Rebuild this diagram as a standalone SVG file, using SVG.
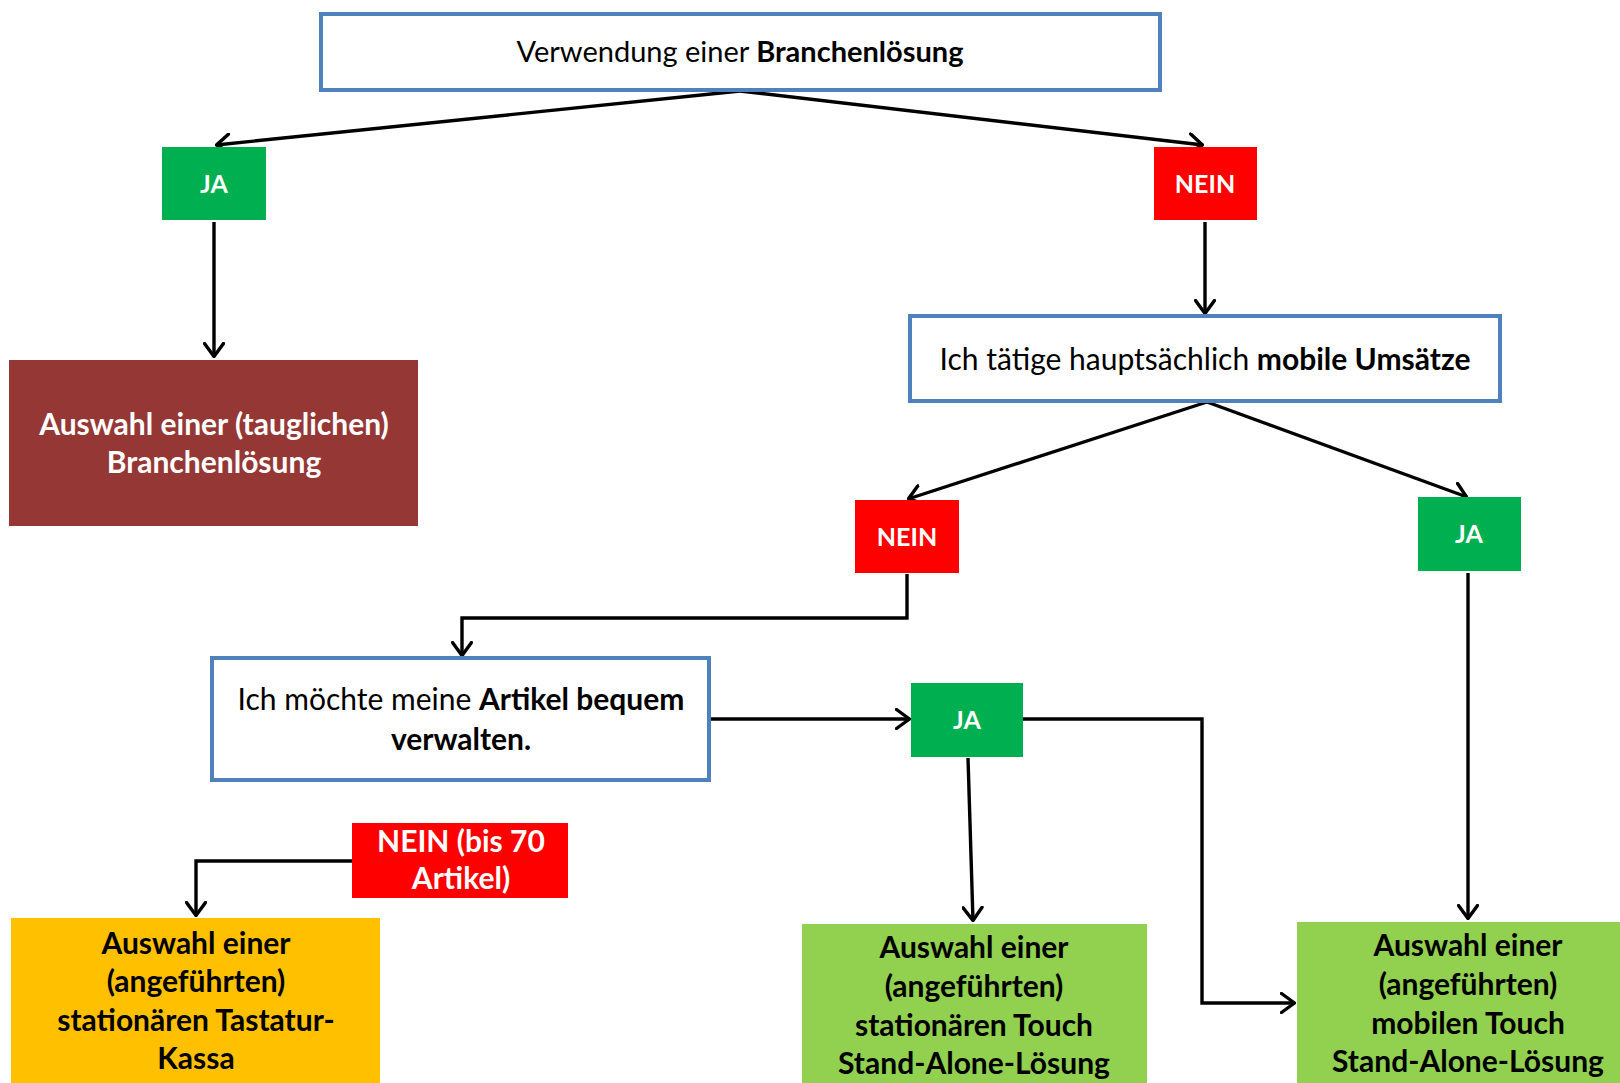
<svg xmlns="http://www.w3.org/2000/svg" width="1620" height="1083" viewBox="0 0 1620 1083">
<style>
.q{fill:#ffffff;stroke:#4f81bd;stroke-width:4}
.t{font-family:Lato,"Open Sans","Liberation Sans",sans-serif;font-size:30px;text-anchor:middle;fill:#000}
.b{font-weight:bold}
.w{fill:#ffffff}
.s{font-size:25px}
.c{fill:none;stroke:#000;stroke-width:3.4}
</style>
<defs>
<marker id="a" viewBox="0 0 16 22" refX="15" refY="11" markerWidth="16" markerHeight="22" markerUnits="userSpaceOnUse" orient="auto">
<path d="M1.5,1.5 L14.5,11 L1.5,20.5" fill="none" stroke="#000" stroke-width="3.4" stroke-linecap="round" stroke-linejoin="round"/>
</marker>
</defs>
<rect width="1620" height="1083" fill="#ffffff"/>
<g id="connectors">
<line class="c" x1="740" y1="91" x2="216" y2="145" marker-end="url(#a)"/>
<line class="c" x1="740" y1="91" x2="1203" y2="145" marker-end="url(#a)"/>
<line class="c" x1="214" y1="222" x2="214" y2="357" marker-end="url(#a)"/>
<line class="c" x1="1205" y1="222" x2="1205" y2="314" marker-end="url(#a)"/>
<line class="c" x1="1207" y1="402" x2="908" y2="499" marker-end="url(#a)"/>
<line class="c" x1="1207" y1="402" x2="1467" y2="497" marker-end="url(#a)"/>
<polyline class="c" points="907,574 907,618 462,618 462,656" marker-end="url(#a)"/>
<line class="c" x1="709" y1="719" x2="910" y2="719" marker-end="url(#a)"/>
<polyline class="c" points="1023,719 1202,719 1202,1003 1295,1003" marker-end="url(#a)"/>
<line class="c" x1="968" y1="758" x2="973" y2="921" marker-end="url(#a)"/>
<line class="c" x1="1468" y1="573" x2="1468" y2="919" marker-end="url(#a)"/>
<polyline class="c" points="352,861 196,861 196,916" marker-end="url(#a)"/>
</g>
<g id="n-branche">
<rect class="q" x="321" y="14" width="839" height="76"/>
<text class="t" x="740" y="62" style="font-size:29px">Verwendung einer <tspan class="b">Branchenlösung</tspan></text>
</g>
<g id="n-ja1">
<rect x="162" y="147" width="104" height="73" fill="#00b050"/>
<text class="t b w s" x="214" y="193">JA</text>
</g>
<g id="n-nein1">
<rect x="1154" y="147" width="103" height="73" fill="#ff0000"/>
<text class="t b w s" x="1205" y="193">NEIN</text>
</g>
<g id="n-tauglich">
<rect x="9" y="360" width="409" height="166" fill="#953735"/>
<text class="t b w" x="214" y="435">Auswahl einer (tauglichen)</text>
<text class="t b w" x="214" y="473">Branchenlösung</text>
</g>
<g id="n-mobil">
<rect class="q" x="910" y="316" width="590" height="85"/>
<text class="t" x="1205" y="370">Ich tätige hauptsächlich <tspan class="b">mobile Umsätze</tspan></text>
</g>
<g id="n-nein2">
<rect x="855" y="500" width="104" height="73" fill="#ff0000"/>
<text class="t b w s" x="907" y="546">NEIN</text>
</g>
<g id="n-ja2">
<rect x="1418" y="497" width="103" height="74" fill="#00b050"/>
<text class="t b w s" x="1469" y="543">JA</text>
</g>
<g id="n-artikel">
<rect class="q" x="212" y="658" width="497" height="122"/>
<text class="t" x="461" y="710">Ich möchte meine <tspan class="b">Artikel bequem</tspan></text>
<text class="t b" x="461" y="750">verwalten.</text>
</g>
<g id="n-ja3">
<rect x="911" y="683" width="112" height="74" fill="#00b050"/>
<text class="t b w s" x="967" y="729">JA</text>
</g>
<g id="n-nein70">
<rect x="352" y="823" width="216" height="75" fill="#ff0000"/>
<text class="t b w" x="461" y="852">NEIN (bis 70</text>
<text class="t b w" x="461" y="889">Artikel)</text>
</g>
<g id="n-tastatur">
<rect x="11" y="918" width="369" height="170" fill="#ffc000"/>
<text class="t b" x="196" y="954">Auswahl einer</text>
<text class="t b" x="196" y="992">(angeführten)</text>
<text class="t b" x="196" y="1031">stationären Tastatur-</text>
<text class="t b" x="196" y="1069">Kassa</text>
</g>
<g id="n-stationaer-touch">
<rect x="802" y="924" width="345" height="164" fill="#92d050"/>
<text class="t b" x="974" y="958">Auswahl einer</text>
<text class="t b" x="974" y="997">(angeführten)</text>
<text class="t b" x="974" y="1036">stationären Touch</text>
<text class="t b" x="974" y="1074">Stand-Alone-Lösung</text>
</g>
<g id="n-mobil-touch">
<rect x="1297" y="922" width="330" height="166" fill="#92d050"/>
<text class="t b" x="1468" y="956">Auswahl einer</text>
<text class="t b" x="1468" y="995">(angeführten)</text>
<text class="t b" x="1468" y="1034">mobilen Touch</text>
<text class="t b" x="1468" y="1072">Stand-Alone-Lösung</text>
</g>
</svg>
